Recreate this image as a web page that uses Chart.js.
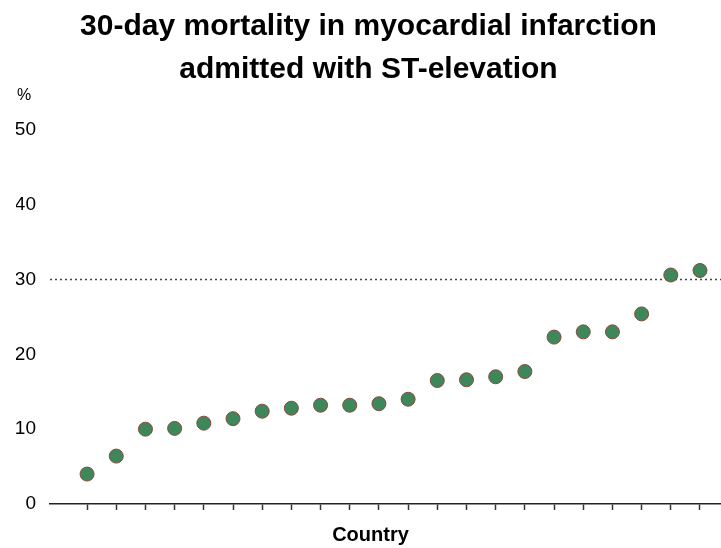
<!DOCTYPE html>
<html><head><meta charset="utf-8">
<script src="https://cdn.jsdelivr.net/npm/chart.js@4"></script>
<style>html,body{margin:0;padding:0;background:#fff}#wrap{width:721px;height:548px;position:relative}</style>
</head><body><div id="wrap"><canvas id="c"></canvas></div>
<script>
const countryIndex = [1,2,3,4,5,6,7,8,9,10,11,12,13,14,15,16,17,18,19,20,21,22];
const mortality = [4.0,6.4,10.0,10.1,10.8,11.4,12.4,12.8,13.2,13.2,13.4,14.0,16.5,16.6,17.0,17.7,22.3,23.0,23.0,25.4,30.6,31.2];
const yTickValues = [0,10,20,30,40,50];
const referenceLevel = 30;
const titleLines = ['30-day mortality in myocardial infarction','admitted with ST-elevation'];
const xTitle = 'Country';
const yUnit = '%';

const FONT = '"Liberation Sans", Arial, sans-serif';

const refLinePlugin = {
  id: 'refLine',
  beforeDatasetsDraw(chart) {
    const {ctx, chartArea, scales} = chart;
    const y = scales.y.getPixelForValue(referenceLevel);
    ctx.save();
    ctx.strokeStyle = '#444';
    ctx.lineWidth = 1.5;
    ctx.setLineDash([2, 3]);
    ctx.beginPath();
    ctx.moveTo(chartArea.left, y);
    ctx.lineTo(chartArea.right, y);
    ctx.stroke();
    ctx.restore();
  }
};
const textPlugin = {
  id: 'extraText',
  afterDraw(chart) {
    const {ctx, scales, chartArea} = chart;
    ctx.save();
    ctx.fillStyle = '#000';
    ctx.textAlign = 'center';
    ctx.textBaseline = 'middle';
    ctx.font = '16px ' + FONT;
    ctx.fillText(yUnit, 24, scales.y.getPixelForValue(yTickValues[yTickValues.length - 1]) - 34);
    ctx.font = 'bold 20px ' + FONT;
    ctx.fillText(xTitle, (chartArea.left + chartArea.right) / 2 - 15, chartArea.bottom + 31);
    ctx.restore();
  }
};

new Chart(document.getElementById('c'), {
  type: 'scatter',
  data: {
    datasets: [{
      data: countryIndex.map((c, i) => ({x: c, y: mortality[i]})),
      pointRadius: 7,
      pointHoverRadius: 7,
      backgroundColor: '#3d875a',
      borderColor: '#8a4a3a',
      borderWidth: 1,
      showLine: false
    }]
  },
  options: {
    responsive: true,
    maintainAspectRatio: false,
    animation: false,
    layout: {padding: {left: 16, right: 0, top: 0, bottom: 0}, autoPadding: false},
    plugins: {
      legend: {display: false},
      tooltip: {enabled: false},
      title: {
        display: true,
        text: titleLines,
        color: '#000',
        font: {family: FONT, size: 30, weight: 'bold', lineHeight: 1.43},
        padding: {top: 5, bottom: 39}
      }
    },
    scales: {
      x: {
        type: 'linear',
        min: -0.27,
        max: 22.72,
        afterBuildTicks: axis => { axis.ticks = countryIndex.map(v => ({value: v})); },
        afterFit: s => { s.height = 44; },
        ticks: {callback: () => '', autoSkip: false, font: {size: 1}},
        grid: {drawOnChartArea: false, drawTicks: true, tickLength: 6, tickColor: '#333', tickWidth: 1.5},
        border: {display: true, color: '#222', width: 1.5},
        title: {display: false}
      },
      y: {
        min: 0,
        max: 50,
        afterBuildTicks: axis => { axis.ticks = yTickValues.map(v => ({value: v})); },
        afterFit: s => { s.width = 34; },
        ticks: {color: '#000', font: {family: FONT, size: 19}, padding: 14},
        grid: {display: false, drawTicks: false},
        border: {display: false}
      }
    }
  },
  plugins: [refLinePlugin, textPlugin]
});
</script></body></html>
